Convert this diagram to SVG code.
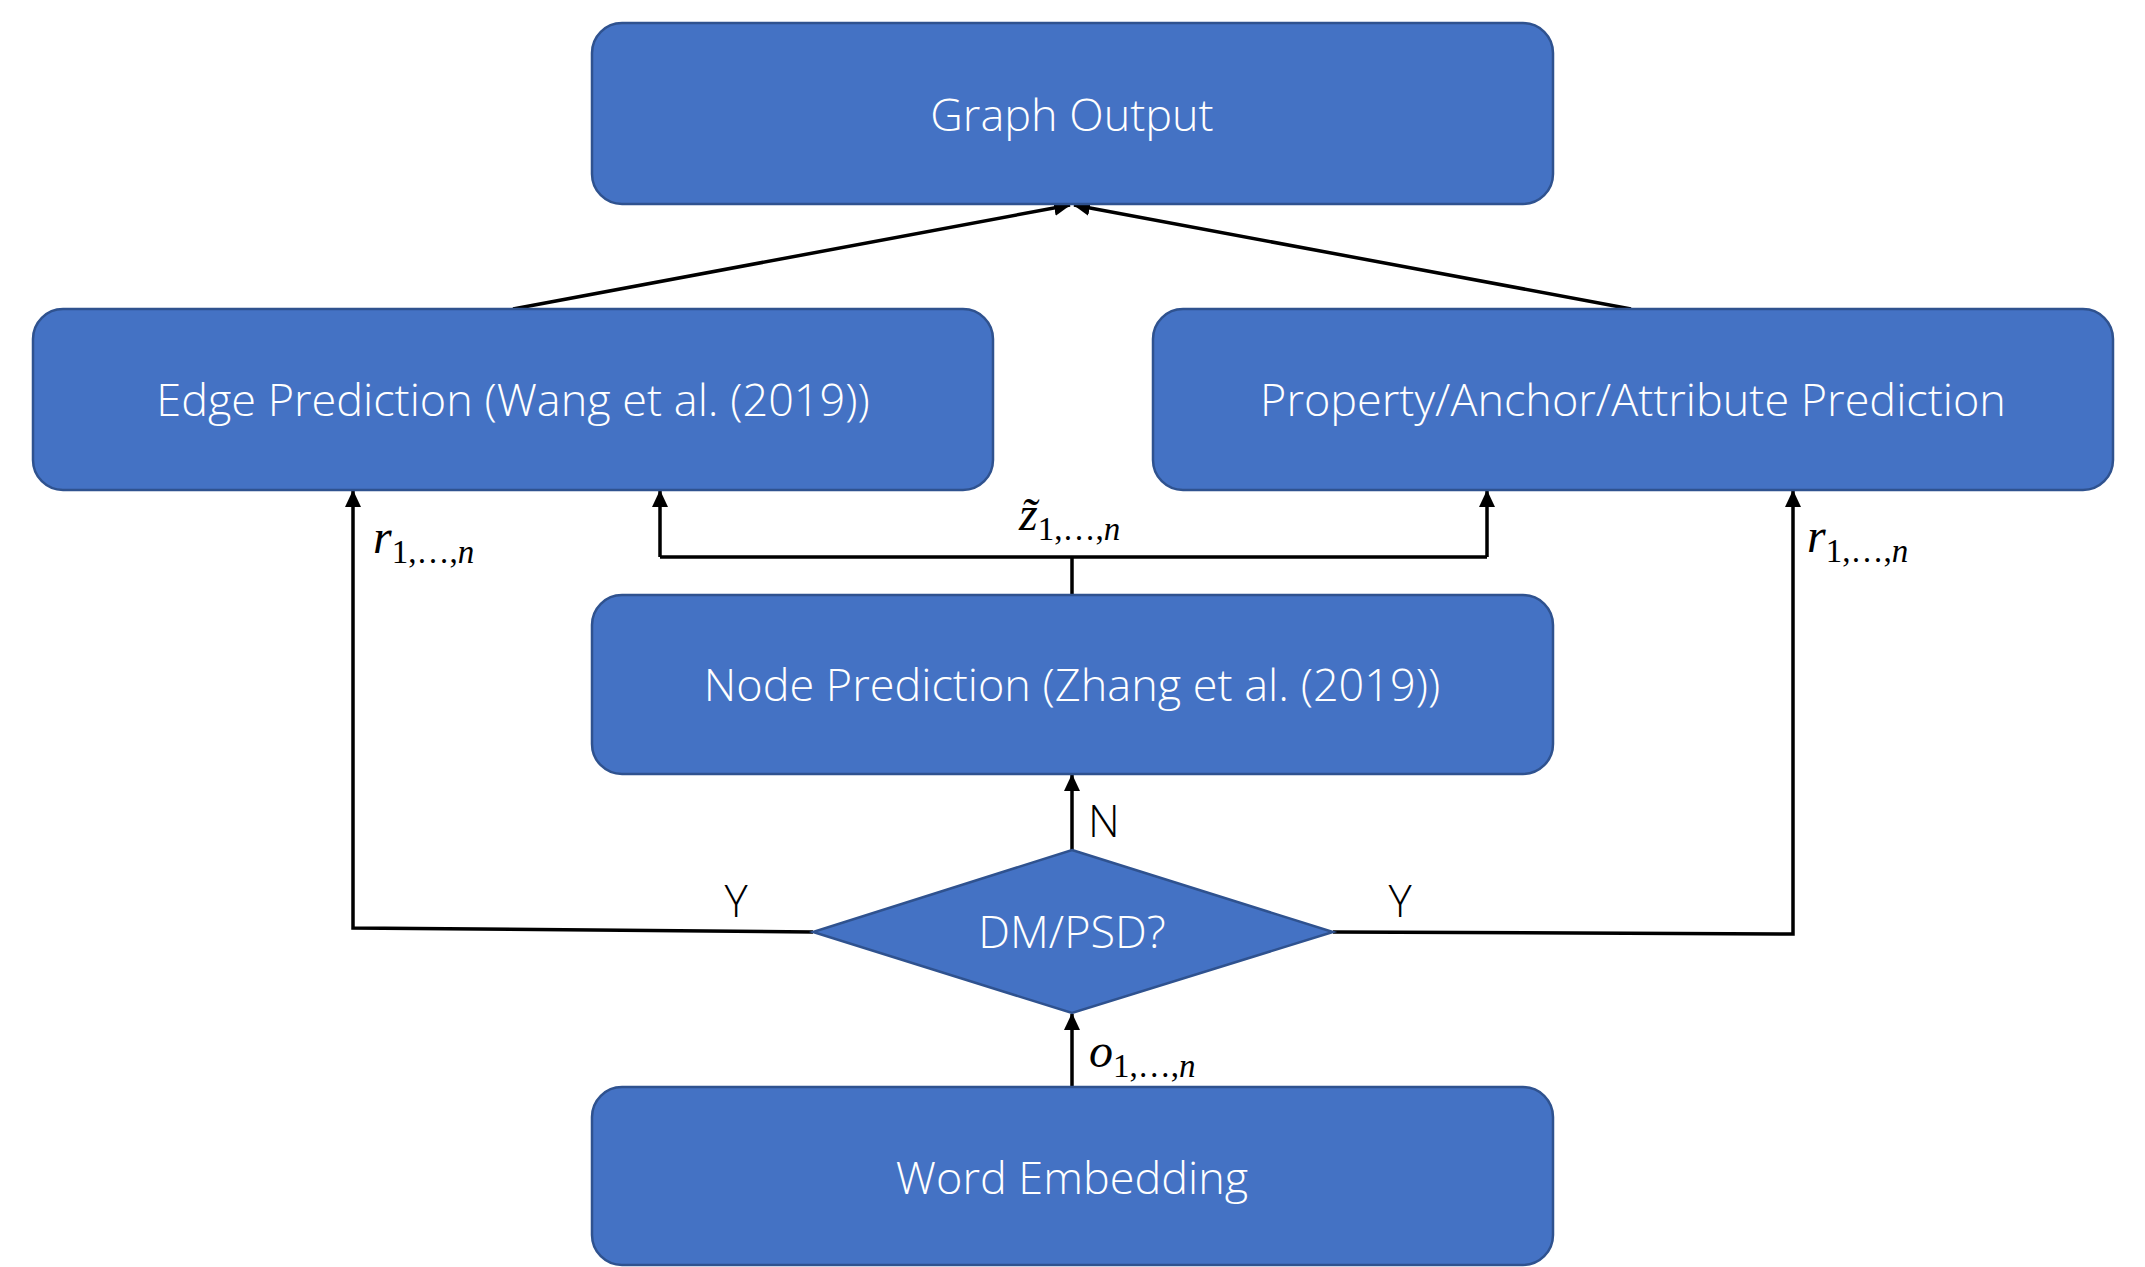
<svg xmlns="http://www.w3.org/2000/svg" width="2145" height="1267" viewBox="0 0 2145 1267">
<style>
.box{fill:#4472C4;stroke:#2F528F;stroke-width:2.5}
.lbl{font-family:"Open Sans","Noto Sans","Liberation Sans",sans-serif;font-weight:300;font-size:45px;fill:#FFFFFF;text-anchor:middle}
.yn{font-family:"Open Sans","Noto Sans","Liberation Sans",sans-serif;font-weight:300;font-size:44px;fill:#000000}
.ln{fill:none;stroke:#000000;stroke-width:3.5}
.m{font-family:"Liberation Serif","DejaVu Serif",serif;font-size:48px;font-style:italic;fill:#000}
.s{font-size:33px}
.up{font-style:normal}
</style>
<defs>
<marker id="ah" markerUnits="userSpaceOnUse" markerWidth="18" markerHeight="18" viewBox="0 0 18 18" refX="16" refY="9" orient="auto">
<path d="M0,1 L17,9 L0,17 Z" fill="#000"/>
</marker>
</defs>
<rect width="2145" height="1267" fill="#FFFFFF"/>
<g id="connectors">
<line class="ln" x1="513" y1="309" x2="1070" y2="205" marker-end="url(#ah)"/>
<line class="ln" x1="1631" y1="309" x2="1074" y2="205" marker-end="url(#ah)"/>
<polyline class="ln" points="1072,595 1072,557"/>
<polyline class="ln" points="660,557 1487,557"/>
<line class="ln" x1="660" y1="557" x2="660" y2="491" marker-end="url(#ah)"/>
<line class="ln" x1="1487" y1="557" x2="1487" y2="491" marker-end="url(#ah)"/>
<line class="ln" x1="1072" y1="850" x2="1072" y2="775" marker-end="url(#ah)"/>
<line class="ln" x1="1072" y1="1087" x2="1072" y2="1014" marker-end="url(#ah)"/>
<polyline class="ln" points="813,932 353,928 353,491" marker-end="url(#ah)"/>
<polyline class="ln" points="1333,932 1793,934 1793,491" marker-end="url(#ah)"/>
</g>
<g id="graph-output">
<rect class="box" x="592" y="23" width="961" height="181" rx="30"/>
<text class="lbl" x="1072" y="131">Graph Output</text>
</g>
<g id="edge-prediction">
<rect class="box" x="33" y="309" width="960" height="181" rx="30"/>
<text class="lbl" x="513" y="416">Edge Prediction (Wang et al. (2019))</text>
</g>
<g id="property-prediction">
<rect class="box" x="1153" y="309" width="960" height="181" rx="30"/>
<text class="lbl" x="1633" y="416">Property/Anchor/Attribute Prediction</text>
</g>
<g id="node-prediction">
<rect class="box" x="592" y="595" width="961" height="179" rx="30"/>
<text class="lbl" x="1072" y="701">Node Prediction (Zhang et al. (2019))</text>
</g>
<g id="decision">
<polygon class="box" points="1072,850 1333,932 1072,1013 813,932"/>
<text class="lbl" x="1072" y="948">DM/PSD?</text>
</g>
<g id="word-embedding">
<rect class="box" x="592" y="1087" width="961" height="178" rx="30"/>
<text class="lbl" x="1072" y="1194">Word Embedding</text>
</g>
<g id="labels">
<text class="yn" x="1088" y="837">N</text>
<text class="yn" x="736" y="917" text-anchor="middle">Y</text>
<text class="yn" x="1400" y="917" text-anchor="middle">Y</text>
<text class="m" x="373" y="553">r<tspan class="s up" dy="10">1,…,</tspan><tspan class="s">n</tspan></text>
<text class="m" x="1807" y="552">r<tspan class="s up" dy="10">1,…,</tspan><tspan class="s">n</tspan></text>
<text class="m" x="1089" y="1067">o<tspan class="s up" dy="10">1,…,</tspan><tspan class="s">n</tspan></text>
<text class="m" x="1019" y="530">z&#x0303;<tspan class="s up" dy="10">1,…,</tspan><tspan class="s">n</tspan></text>
</g>
</svg>
